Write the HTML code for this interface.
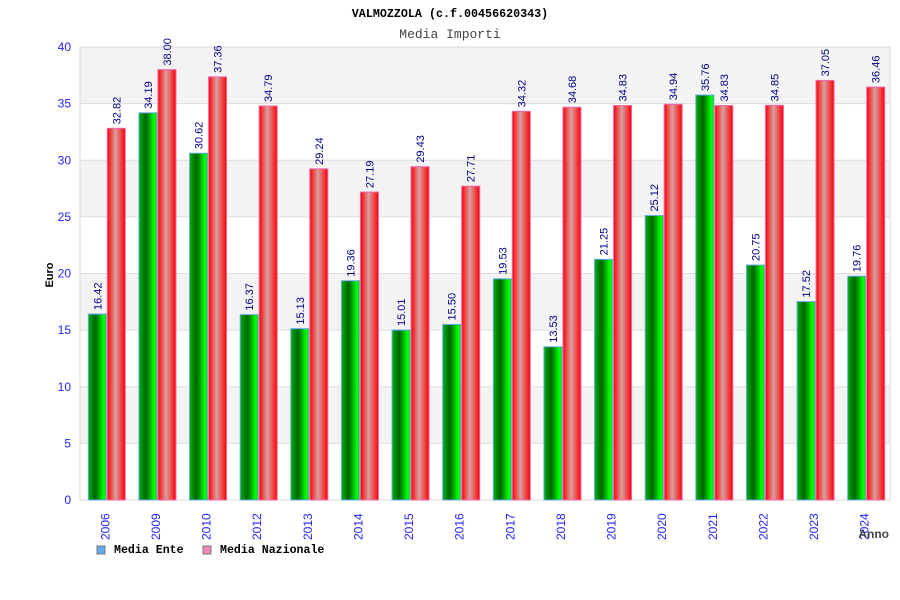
<!DOCTYPE html>
<html><head><meta charset="utf-8"><style>
body{margin:0;background:#fff}
svg{display:block}
text{font-family:"Liberation Sans",sans-serif}
.mono{font-family:"Liberation Mono",monospace}
</style></head><body>
<svg id="c" width="900" height="600" xmlns="http://www.w3.org/2000/svg">
<defs>
<linearGradient id="gg" x1="0" x2="1" y1="0" y2="0"><stop offset="0" stop-color="#00b000"/><stop offset="0.4" stop-color="#006400"/><stop offset="0.85" stop-color="#00ff00"/><stop offset="1" stop-color="#00e000"/></linearGradient>
<linearGradient id="rg" x1="0" x2="1" y1="0" y2="0"><stop offset="0" stop-color="#ff0000"/><stop offset="0.45" stop-color="#d8a0a0"/><stop offset="1" stop-color="#ff0000"/></linearGradient>
</defs>
<text x="450" y="17" text-anchor="middle" class="mono" font-size="11.7" font-weight="bold" fill="#000">VALMOZZOLA (c.f.00456620343)</text>
<text x="450" y="38" text-anchor="middle" class="mono" font-size="13" fill="#444">Media Importi</text>
<g id="grid"></g>
<g id="bars"></g>
<text transform="translate(53,275) rotate(-90)" text-anchor="middle" font-size="11" font-weight="bold" fill="#000">Euro</text>
<text x="889" y="538" text-anchor="end" font-size="12" font-weight="bold" fill="#444">Anno</text>
<g>
<rect x="97" y="546" width="8" height="8" fill="#66aaee" stroke="#777"/>
<text x="114" y="553" class="mono" font-size="11.6" font-weight="bold">Media Ente</text>
<rect x="203" y="546" width="8" height="8" fill="#ee88bb" stroke="#777"/>
<text x="220" y="553" class="mono" font-size="11.6" font-weight="bold">Media Nazionale</text>
</g>
</svg>
<script>
const categories=["2006","2009","2010","2012","2013","2014","2015","2016","2017","2018","2019","2020","2021","2022","2023","2024"];
const ente=[16.42,34.19,30.62,16.37,15.13,19.36,15.01,15.50,19.53,13.53,21.25,25.12,35.76,20.75,17.52,19.76];
const nazionale=[32.82,38.00,37.36,34.79,29.24,27.19,29.43,27.71,34.32,34.68,34.83,34.94,34.83,34.85,37.05,36.46];
const yTicks=[0,5,10,15,20,25,30,35,40];
const NS="http://www.w3.org/2000/svg";
const L=80,R=890,T=47,B=500,YMAX=40;
const y=v=>B-(v/YMAX)*(B-T);
const bw=(R-L)/categories.length;
const xc=i=>L+bw*(i+0.5)+1;
function mk(tag,attrs,parent){const e=document.createElementNS(NS,tag);for(const k in attrs)e.setAttribute(k,attrs[k]);parent.appendChild(e);return e;}
const grid=document.getElementById('grid'),bars=document.getElementById('bars');
for(let i=0;i<yTicks.length-1;i++){
  if(i%2===1){const r=mk('rect',{x:L,y:y(yTicks[i+1]),width:R-L,height:y(yTicks[i])-y(yTicks[i+1]),fill:'#f3f3f3'},grid);
  
  }
}
yTicks.forEach(t=>{
  const l=mk('line',{x1:L,x2:R,y1:y(t),y2:y(t),stroke:'#dddddd'},grid);
  
  
  const tx=mk('text',{x:71,y:y(t)+4,'text-anchor':'end','font-size':12,fill:'#2222ff'},grid);
  tx.textContent=t;
  
  
});
const fr=mk('rect',{x:L,y:T,width:R-L,height:B-T,fill:'none',stroke:'#d8d8d8'},grid);


function label(x,v,val){
  const t=mk('text',{transform:`translate(${x+4},${y(v)-4}) rotate(-90)`,'font-size':11,fill:'#000088'},bars);
  t.textContent=val.toFixed(2);
  
  
}
categories.forEach((c,i)=>{
  const cx=xc(i);
  const g=mk('rect',{x:cx-18,y:y(ente[i]),width:18,height:B-y(ente[i]),fill:'url(#gg)',stroke:'#66aaee','stroke-width':1},bars);
  
  
  const r=mk('rect',{x:cx+1,y:y(nazionale[i]),width:18,height:B-y(nazionale[i]),fill:'url(#rg)',stroke:'#ee66aa','stroke-width':1},bars);
  
  
  label(cx-9,ente[i],ente[i]);
  label(cx+10,nazionale[i],nazionale[i]);
  const xt=mk('text',{transform:`translate(${cx+3},${540}) rotate(-90)`,'font-size':12,fill:'#2222ff'},bars);
  xt.textContent=c;
  
  
});
</script>
</body></html>
